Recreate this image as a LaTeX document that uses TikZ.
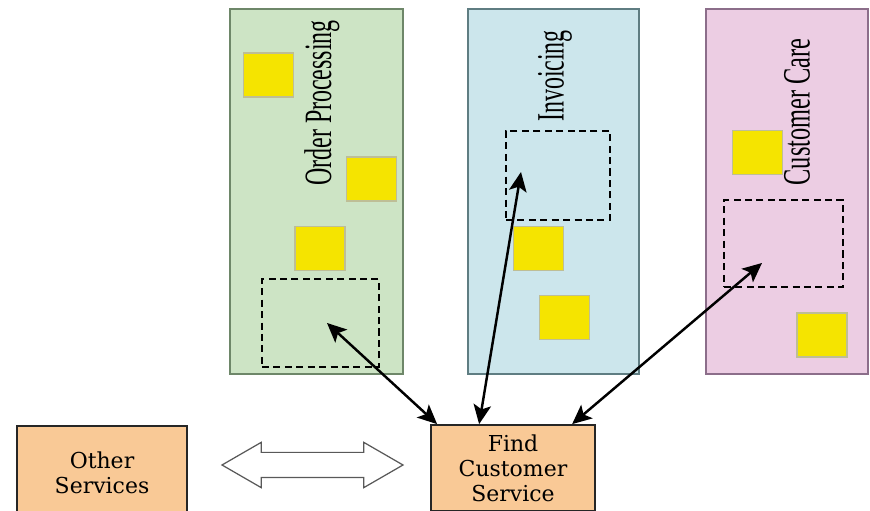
\documentclass[tikz,border=0pt]{standalone}
\usepackage{fontspec}
\setmainfont{Liberation Serif}
\newfontfamily\boxfont{DejaVu Serif}
\usetikzlibrary{arrows.meta,shapes.arrows}

\definecolor{opgreen}{RGB}{205,228,197}
\definecolor{opgreenline}{RGB}{110,135,105}
\definecolor{invblue}{RGB}{204,230,236}
\definecolor{invblueline}{RGB}{95,125,130}
\definecolor{ccpink}{RGB}{236,205,227}
\definecolor{ccpinkline}{RGB}{140,110,138}
\definecolor{compyellow}{RGB}{245,228,0}
\definecolor{compline}{RGB}{190,190,150}
\definecolor{svcorange}{RGB}{249,201,150}

\begin{document}
\begin{tikzpicture}[
    panel/.style={draw, line width=1pt, minimum height=7.30cm, inner sep=0pt},
    comp/.style={draw=compline, fill=compyellow, line width=0.6pt, minimum width=1.0cm, minimum height=0.88cm, inner sep=0pt},
    slot/.style={draw, line width=1.5pt, dash pattern=on 4pt off 2.5pt, inner sep=0pt},
    paneltext/.style={rotate=90, font=\rmfamily\fontsize{22}{24}\selectfont, inner sep=0pt},
    service/.style={draw=black!85, fill=svcorange, line width=1pt, align=center,
        font=\boxfont\fontsize{12.5}{14.2}\selectfont, inner sep=0pt},
    link/.style={{Stealth[length=11pt,width=10pt,inset=2.5pt]}-{Stealth[length=11pt,width=10pt,inset=2.5pt]}, line width=1.4pt}
]
    \useasboundingbox (0,0) rectangle (17.4,10.22);
    \clip (0,0) rectangle (17.4,10.22);

    %Order Processing
    \node[panel, draw=opgreenline, fill=opgreen, minimum width=3.46cm] (orderpanel) at (6.33,6.39) {};
    \node[paneltext] (ordertext) at (6.44,8.16) {\scalebox{0.62}[1]{Order Processing}};
    \node[comp] (orderA) at (5.37,8.72) {};
    \node[comp] (orderB) at (7.43,6.64) {};
    \node[comp] (orderC) at (6.40,5.25) {};
    \node[slot, minimum width=2.34cm, minimum height=1.76cm] (orderslot) at (6.41,3.76) {};

    %Invoicing
    \node[panel, draw=invblueline, fill=invblue, minimum width=3.42cm] (invpanel) at (11.07,6.39) {};
    \node[paneltext] (invtext) at (11.10,8.70) {\scalebox{0.62}[1]{Invoicing}};
    \node[comp] (invA) at (10.77,5.25) {};
    \node[comp] (invB) at (11.29,3.87) {};
    \node[slot, minimum width=2.08cm, minimum height=1.78cm] (invslot) at (11.16,6.71) {};

    %Customer Care
    \node[panel, draw=ccpinkline, fill=ccpink, minimum width=3.24cm] (carepanel) at (15.74,6.39) {};
    \node[paneltext] (caretext) at (15.94,7.98) {\scalebox{0.63}[1]{Customer Care}};
    \node[comp] (careA) at (15.15,7.17) {};
    \node[comp] (careB) at (16.44,3.52) {};
    \node[slot, minimum width=2.38cm, minimum height=1.74cm] (careslot) at (15.67,5.35) {};

    %Services
    \node[service, minimum width=3.40cm, minimum height=1.86cm] (other) at (2.04,0.77) {Other\\Services};
    \node[service, minimum width=3.28cm, minimum height=1.72cm] (find) at (10.26,0.86) {Find\\Customer\\Service};

    \node[double arrow, draw=black!65, fill=white, line width=0.7pt, inner xsep=0pt, inner ysep=0.24cm,
        minimum height=3.62cm, minimum width=0.88cm, double arrow head extend=0.2cm,
        double arrow tip angle=60] (exchange) at (6.25,0.92) {};

    \coordinate (ordertip) at (6.54,3.76);
    \coordinate (invtip) at (10.42,6.78);
    \coordinate (caretip) at (15.24,4.96);

    \draw[link] ([xshift=0.14cm]find.north west) -- (ordertip);
    \draw[link] ([xshift=0.98cm]find.north west) -- (invtip);
    \draw[link] ([xshift=2.84cm]find.north west) -- (caretip);
\end{tikzpicture}
\end{document}
